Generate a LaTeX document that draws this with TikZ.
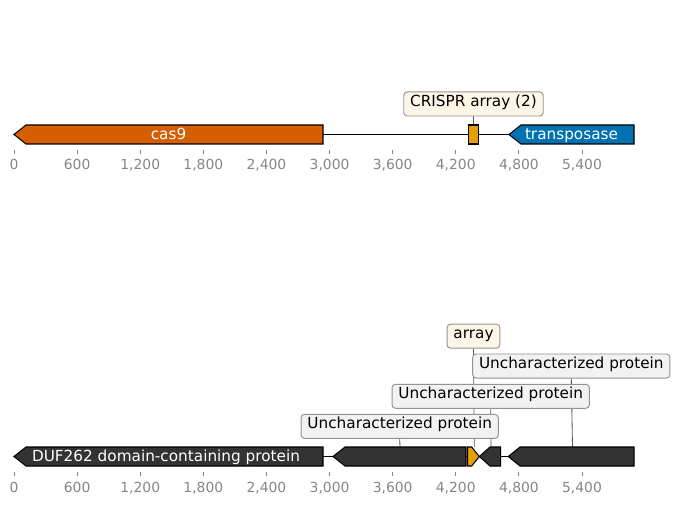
\documentclass[tikz,border=0pt]{standalone}
\usepackage{fontspec}
\setmainfont{DejaVu Sans}
\usetikzlibrary{positioning,backgrounds}
\definecolor{casorange}{HTML}{D55E00}
\definecolor{arrayyellow}{HTML}{E69F00}
\definecolor{tnpblue}{HTML}{0072B2}
\definecolor{darkgene}{HTML}{333333}
\definecolor{tagcream}{HTML}{FDF6E6}
\definecolor{taggrey}{HTML}{F2F2F2}
\definecolor{tickgrey}{HTML}{868686}

\begin{document}
\begin{tikzpicture}[
    x=0.72pt, y=-0.72pt,
    font=\fontsize{11}{13}\selectfont,
    gene/.style={
        draw=black,
        line width=0.75pt,
        line join=miter
    },
    backbone/.style={
        draw=black,
        line width=1.4pt
    },
    genetext/.style={
        text=white,
        anchor=base,
        inner sep=0pt
    },
    tag/.style={
        draw=gray!85,
        fill=taggrey,
        rounded corners=2.5pt,
        line width=0.7pt,
        inner xsep=4.6pt,
        inner ysep=0pt,
        minimum height=17.3pt,
        text height=7.4pt,
        text depth=3.6pt
    },
    tagline/.style={
        draw=black!65,
        line width=0.6pt
    },
    axistick/.style={
        draw=tickgrey,
        line width=0.6pt
    },
    ticklabel/.style={
        text=tickgrey,
        font=\fontsize{10}{12}\selectfont,
        anchor=base,
        inner sep=0pt
    }
]
\useasboundingbox (0,0) rectangle (676,505);

% Top track: backbone and features
\draw[backbone] (14,134.5) -- (634,134.5);
\path[gene, fill=casorange] (14,134.5) -- (26,125) -- (323,125) -- (323,144) -- (26,144) -- cycle;
\path[gene, fill=arrayyellow] (468.3,125) rectangle (478.7,144);
\path[gene, fill=tnpblue] (509,134.5) -- (521,125) -- (634,125) -- (634,144) -- (521,144) -- cycle;
\node[genetext] (cas9) at (168.5,139) {cas9};
\node[genetext] (tnp) at (571.5,139) {transposase};
\coordinate (crisprtop) at (473.5,125);

% Top track: label
\node[tag, fill=tagcream] (crisprtag) at (473.5,104) {CRISPR array (2)};
\begin{scope}[on background layer]
    \draw[tagline] (crisprtag.south) -- (crisprtop);
\end{scope}

% Bottom track: backbone and features
\draw[backbone] (14,456.5) -- (634,456.5);
\path[gene, fill=darkgene] (14,456.5) -- (26,447) -- (323,447) -- (323,466) -- (26,466) -- cycle;
\path[gene, fill=darkgene] (333,456.5) -- (345,447) -- (466,447) -- (466,466) -- (345,466) -- cycle;
\path[gene, fill=arrayyellow] (467.7,447) -- (471.7,447) -- (479.3,456.5) -- (471.7,466) -- (467.7,466) -- cycle;
\path[gene, fill=darkgene] (479.3,456.5) -- (490,447) -- (500.7,447) -- (500.7,466) -- (490,466) -- cycle;
\path[gene, fill=darkgene] (508.3,456.5) -- (520,447) -- (634,447) -- (634,466) -- (520,466) -- cycle;
\node[genetext] (duf) at (166,461) {DUF262 domain-containing protein};
\coordinate (unctopa) at (400,447);
\coordinate (arraytop) at (474.3,447);
\coordinate (unctopb) at (491,447);
\coordinate (unctopc) at (572.5,447);

% Bottom track: labels
\node[tag] (unctaga) at (399.7,426.3) {Uncharacterized protein};
\node[tag] (unctagb) at (490.7,396.3) {Uncharacterized protein};
\node[tag] (unctagc) at (571.3,366) {Uncharacterized protein};
\node[tag, fill=tagcream] (arraytag) at (473.5,336.2) {array};
\begin{scope}[on background layer]
    \draw[tagline] (unctaga.south) -- (unctopa);
    \draw[tagline] (unctagb.south) -- (unctopb);
    \draw[tagline] (unctagc.south) -- (unctopc);
    \draw[tagline] (arraytag.south) -- (arraytop);
\end{scope}

% Axes
\foreach \i/\lab in {0/0,1/600,2/{1,200},3/{1,800},4/{2,400},5/{3,000},6/{3,600},7/{4,200},8/{4,800},9/{5,400}} {
    \draw[axistick] ({14+63.11*\i},150) -- ({14+63.11*\i},154);
    \node[ticklabel] (toptick\i) at ({14+63.11*\i},170) {\lab};
    \draw[axistick] ({14+63.11*\i},472) -- ({14+63.11*\i},476);
    \node[ticklabel] (bottick\i) at ({14+63.11*\i},492) {\lab};
}

\end{tikzpicture}
\end{document}
